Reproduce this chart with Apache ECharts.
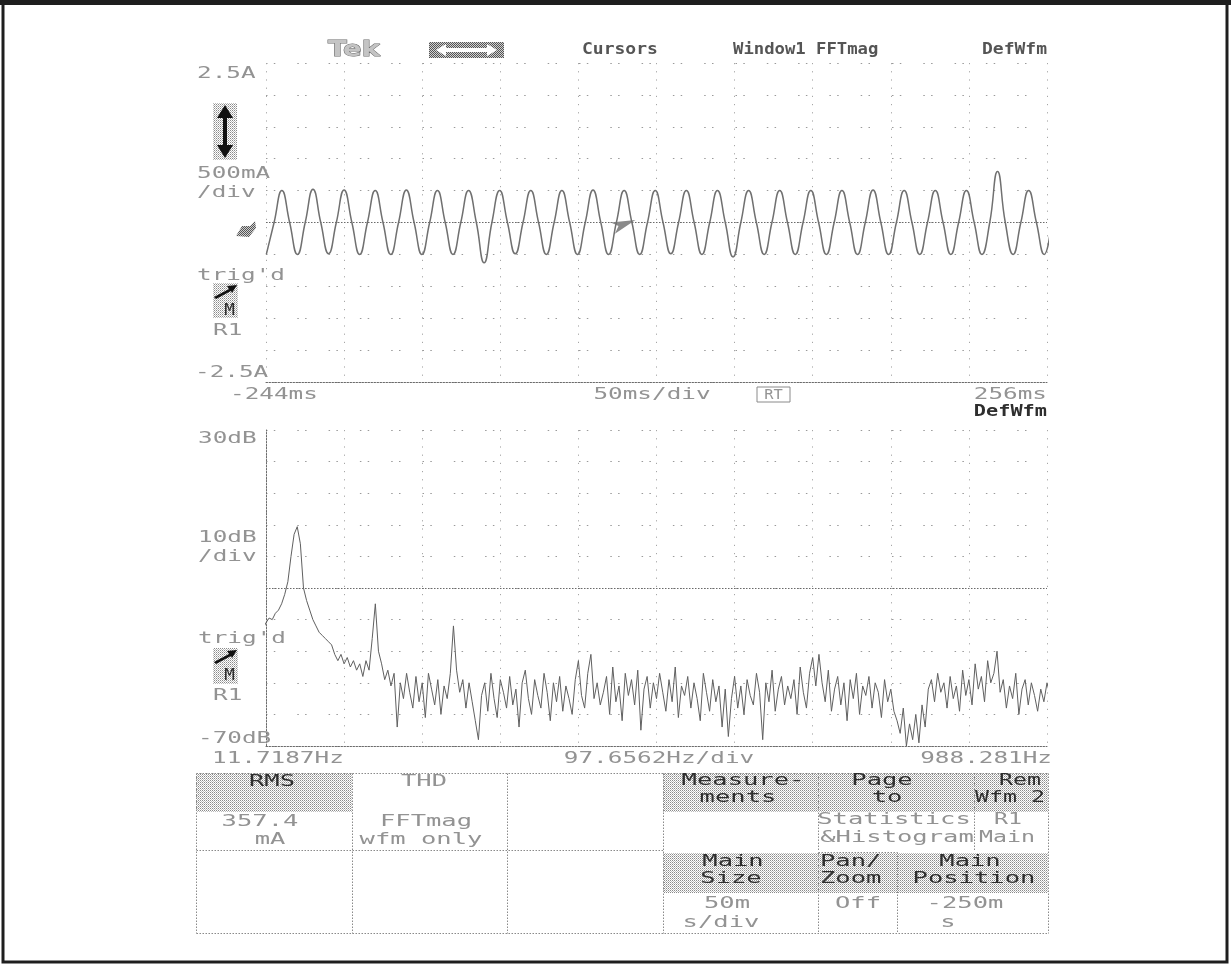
<!DOCTYPE html>
<html><head><meta charset="utf-8">
<script src="https://cdn.jsdelivr.net/npm/echarts@6/dist/echarts.min.js"></script>
<style>html,body{margin:0;padding:0;background:#fff}#c{width:1231px;height:967px}</style>
</head><body><div id="c"></div>
<script>
// ---------------- data ----------------
const timeRangeMs = [-244, 256];
const ampRangeA = [-2.5, 2.5];
const freqRangeHz = [11.7187, 988.281];
const dbRange = [-70, 30];

const ampTickValues = [2.5, -2.5];
const ampTickLabels = ['2.5A', '-2.5A'];
const timeTickValues = [-244, 256];
const timeTickLabels = ['-244ms', '256ms'];
const dbTickValues = [30, -70];
const dbTickLabels = ['30dB', '-70dB'];
const freqTickValues = [11.7187, 988.281];
const freqTickLabels = ['11.7187Hz', '988.281Hz'];

// current waveform, sampled every quarter cycle (A)
const waveStartMs = -243.8;
const waveStepMs = 4.98;
const waveCurrentA = [
  -0.50, 0, 0.50, 0, -0.50, 0, 0.52, 0, -0.49, 0, 0.51, 0, -0.50, 0, 0.50, 0,
  -0.50, 0, 0.51, 0, -0.50, 0, 0.50, 0, -0.50, 0, 0.50, 0, -0.63, 0, 0.50, 0,
  -0.49, 0, 0.50, 0, -0.50, 0, 0.50, 0, -0.50, 0, 0.51, 0, -0.50, 0, 0.50, 0,
  -0.50, 0, 0.50, 0, -0.49, 0, 0.50, 0, -0.50, 0, 0.50, 0, -0.54, 0, 0.50, 0,
  -0.50, 0, 0.50, 0, -0.50, 0, 0.50, 0, -0.50, 0, 0.50, 0, -0.50, 0, 0.51, 0,
  -0.50, 0, 0.50, 0, -0.50, 0, 0.50, 0, -0.50, 0, 0.50, 0, -0.50, 0, 0.80, 0,
  -0.50, 0, 0.50, 0, -0.50, 0.05
];

// FFT magnitude per bin (dB), bins of 3.90625 Hz starting at bin 1
const fftStartHz = 3.90625;
const fftStepHz = 3.90625;
const fftDb = [
  -36, -33, -31, -29.5, -30, -28, -27, -25, -22, -18,
  -10, -3, -0.6, -6, -20, -24, -27, -30, -32, -34,
  -35, -36, -37, -38, -41, -43, -41, -44, -42, -45,
  -43, -46, -44, -48, -43, -46, -36, -25, -40, -44,
  -49, -46, -51, -47, -64, -50, -55, -47, -53, -58,
  -48, -56, -50, -61, -47, -52, -57, -49, -60, -51,
  -55, -47, -32, -46, -53, -49, -58, -50, -56, -62,
  -68, -54, -50, -59, -47, -55, -61, -49, -53, -58,
  -48, -57, -52, -64, -50, -46, -55, -60, -49, -54,
  -58, -47, -53, -62, -50, -56, -48, -59, -51, -55,
  -60, -49, -43, -54, -58, -47, -41, -55, -50, -57,
  -53, -48, -60, -45, -56, -51, -62, -47, -54, -49,
  -57, -46, -65, -52, -48, -58, -50, -55, -47, -53,
  -59, -49, -56, -45, -61, -51, -54, -48, -58, -50,
  -55, -62, -47, -53, -59, -49, -56, -51, -64, -52,
  -67, -55, -48, -58, -51, -60, -49, -54, -57, -47,
  -53, -68, -50, -56, -46, -59, -52, -48, -57, -51,
  -55, -49, -60, -45, -53, -58, -47, -42, -51, -41,
  -50, -56, -46, -59, -52, -48, -57, -50, -62, -49,
  -55, -47, -60, -51, -54, -48, -58, -50, -53, -61,
  -49, -56, -52, -59, -62, -66, -58, -70, -63, -68,
  -60, -69, -57, -64, -52, -49, -56, -47, -53, -50,
  -58, -48, -55, -51, -59, -46, -54, -49, -57, -44,
  -52, -48, -56, -43, -50, -47, -40, -53, -49, -58,
  -51, -55, -47, -60, -52, -49, -57, -50, -54, -59,
  -52, -56, -50, -54, -55
];

// ---------------- chart ----------------
const chart = echarts.init(document.getElementById('c'), null, {renderer: 'canvas'});
const waveData = waveCurrentA.map((v, i) => [waveStartMs + i * waveStepMs, v]);
const fftData = fftDb.map((v, i) => [fftStartHz + i * fftStepHz, v]);

const dense = {color: '#6a6a6a', width: 1, type: [1.5, 1.5]};
const hDots = {color: '#9a9a9a', width: 1, type: [1.5, 6.3, 1.5, 22]};
const vDots = {color: '#a6a6a6', width: 1, type: [1.2, 7]};

function divAxis(gi) {
  return {gridIndex: gi, type: 'value', min: 0, max: 10, interval: 1, position: 'bottom',
    axisLabel: {show: false}, axisTick: {show: false},
    axisLine: {show: true, onZero: false, lineStyle: dense},
    splitLine: {show: true, lineStyle: vDots}};
}

chart.setOption({
  animation: false,
  backgroundColor: '#ffffff',
  grid: [
    {left: 266, top: 63, width: 781, height: 319},
    {left: 266, top: 430, width: 781, height: 316}
  ],
  xAxis: [
    {gridIndex: 0, type: 'value', min: timeRangeMs[0], max: timeRangeMs[1], show: false},
    divAxis(0),
    {gridIndex: 1, type: 'value', min: freqRangeHz[0], max: freqRangeHz[1], show: false},
    divAxis(1)
  ],
  yAxis: [
    {gridIndex: 0, type: 'value', min: ampRangeA[0], max: ampRangeA[1], interval: 0.5,
      axisLabel: {show: false}, axisTick: {show: false}, axisLine: {show: false},
      splitLine: {show: true, lineStyle: hDots}},
    {gridIndex: 1, type: 'value', min: dbRange[0], max: dbRange[1], interval: 10,
      axisLabel: {show: false}, axisTick: {show: false},
      axisLine: {show: true, onZero: false, lineStyle: dense},
      splitLine: {show: true, lineStyle: hDots}}
  ],
  series: [
    {type: 'line', xAxisIndex: 0, yAxisIndex: 0, data: waveData, smooth: 0.5, symbol: 'none',
      clip: false, lineStyle: {color: '#707070', width: 1.5}, z: 5,
      markLine: {silent: true, symbol: 'none', label: {show: false}, lineStyle: dense, data: [{yAxis: 0}]},
      markPoint: {silent: true, symbol: 'arrow', symbolSize: [9, 24], symbolRotate: -70,
        itemStyle: {color: '#8a8a8a'}, label: {show: false}, data: [{coord: [-7.5, 0.04]}]}
    },
    {type: 'line', xAxisIndex: 2, yAxisIndex: 1, data: fftData, symbol: 'none', clip: false,
      lineStyle: {color: '#606060', width: 1}, z: 5,
      markLine: {silent: true, symbol: 'none', label: {show: false}, lineStyle: dense, data: [{yAxis: -20}]}
    }
  ]
});

// ---------------- decorations / text ----------------
const pc = document.createElement('canvas'); pc.width = 2; pc.height = 2;
const pg = pc.getContext('2d');
pg.fillStyle = '#fff'; pg.fillRect(0, 0, 2, 2);
pg.fillStyle = '#8a8a8a'; pg.fillRect(0, 0, 1, 1);
pg.fillStyle = '#bdbdbd'; pg.fillRect(1, 1, 1, 1);
const hatch = {image: pc, repeat: 'repeat'};
const pc2 = document.createElement('canvas'); pc2.width = 2; pc2.height = 2;
const pg2 = pc2.getContext('2d');
pg2.fillStyle = '#d0d0d0'; pg2.fillRect(0, 0, 2, 2);
pg2.fillStyle = '#555'; pg2.fillRect(0, 0, 1, 1); pg2.fillRect(1, 1, 1, 1);
const hatchDark = {image: pc2, repeat: 'repeat'};

const MONO = '"DejaVu Sans Mono"';
const LIGHT = '#939393', DARK = '#2e2e2e';
function txt(text, x, y, o) {
  o = o || {};
  const font = (o.bold ? 'bold ' : '') + (o.size || 16) + 'px ' + (o.family || MONO);
  return {type: 'text', x: x, y: y, scaleX: o.sx || 1.52, z: 20,
    style: {text: text, x: 0, y: 0, font: font, fill: o.color || LIGHT,
      stroke: o.stroke, lineWidth: o.lw || 0,
      align: o.align || 'left', textAlign: o.align || 'left',
      verticalAlign: o.va || 'middle', textVerticalAlign: o.va || 'middle'}};
}
function rect(x, y, w, h, fill, stroke, lw) {
  return {type: 'rect', z: 15, shape: {x: x, y: y, width: w, height: h},
    style: {fill: fill || 'none', stroke: stroke || null, lineWidth: lw || 1}};
}
function line(x1, y1, x2, y2, color, dash) {
  return {type: 'line', z: 16, shape: {x1: x1, y1: y1, x2: x2, y2: y2},
    style: {stroke: color || '#8a8a8a', lineWidth: 1, lineDash: dash || [1.5, 1.5]}};
}
function poly(points, fill) {
  return {type: 'polygon', z: 17, shape: {points: points}, style: {fill: fill}};
}

const px = (q, v) => chart.convertToPixel(q, v);
const g = [];

// page frame
g.push(rect(0, 0, 1231, 5, '#1e1e1e'));
g.push(rect(3, 3, 1224, 959, 'none', '#1e1e1e', 3));

// header
g.push(txt('Tek', 328, 50, {family: '"DejaVu Sans"', bold: true, size: 22, sx: 1.25, color: '#c4c4c4', stroke: '#6a6a6a', lw: 1}));
g.push(rect(429, 42, 75, 16, hatchDark));
g.push(poly([[436, 50], [446, 44], [446, 48], [487, 48], [487, 44], [497, 50], [487, 56], [487, 52], [446, 52], [446, 56]], '#ffffff'));
g.push(txt('Cursors', 582, 50, {bold: true, size: 15, sx: 1.2, color: '#555'}));
g.push(txt('Window1 FFTmag', 733, 50, {bold: true, size: 15, sx: 1.15, color: '#555'}));
g.push(txt('DefWfm', 1047, 50, {bold: true, size: 15, sx: 1.2, color: '#555', align: 'right'}));

// ----- top plot labels -----
const yA0 = px({yAxisIndex: 0}, ampTickValues[0]);
const yA1 = px({yAxisIndex: 0}, ampTickValues[1]);
g.push(txt(ampTickLabels[0], 197, yA0 + 3, {va: 'top'}));
g.push(txt(ampTickLabels[1], 195, yA1 - 1, {va: 'bottom'}));
const xT0 = px({xAxisIndex: 0}, timeTickValues[0]);
const xT1 = px({xAxisIndex: 0}, timeTickValues[1]);
g.push(txt(timeTickLabels[0], xT0 - 36, yA1 + 13));
g.push(txt(timeTickLabels[1], xT1, yA1 + 13, {align: 'right'}));
g.push(txt('50ms/div', 652, yA1 + 13, {align: 'center'}));
g.push(rect(757, yA1 + 5, 33, 15, 'none', '#8a8a8a', 1));
g.push(txt('RT', 773.5, yA1 + 13, {align: 'center', sx: 1.1, size: 14}));
g.push(txt('DefWfm', 1047, yA1 + 30, {align: 'right', bold: true, size: 15, sx: 1.35, color: DARK}));

g.push(txt('500mA', 197, 174));
g.push(txt('/div', 197, 193));
g.push(txt("trig'd", 197, 276));
g.push(txt('R1', 213, 331));
// vertical-position icon
g.push(rect(213, 103, 24, 57, hatch));
g.push(poly([[225, 105], [233, 118], [227, 118], [227, 145], [233, 145], [225, 158], [217, 145], [223, 145], [223, 118], [217, 118]], '#111'));
// trigger arrow + M
g.push(rect(213, 283, 25, 35, hatch));
g.push(poly([[214, 297], [229, 289], [227, 286], [237, 285], [232, 293], [231, 291], [216, 299]], '#111'));
g.push(txt('M', 229.5, 311, {align: 'center', color: DARK, sx: 1.1}));
// channel ground marker
g.push(poly([[236, 236], [242, 226], [250, 226], [255, 221], [256, 228], [249, 237]], hatchDark));

// ----- bottom plot labels -----
const yD0 = px({yAxisIndex: 1}, dbTickValues[0]);
const yD1 = px({yAxisIndex: 1}, dbTickValues[1]);
g.push(txt(dbTickLabels[0], 198, yD0 + 1, {va: 'top'}));
g.push(txt(dbTickLabels[1], 198, yD1 + 1, {va: 'bottom'}));
const xF0 = px({xAxisIndex: 2}, freqTickValues[0]);
const xF1 = px({xAxisIndex: 2}, freqTickValues[1]);
g.push(txt(freqTickLabels[0], xF0 - 54, yD1 + 13));
g.push(txt(freqTickLabels[1], xF1 + 5, yD1 + 13, {align: 'right'}));
g.push(txt('97.6562Hz/div', 659, yD1 + 13, {align: 'center'}));
g.push(txt('10dB', 198, 538));
g.push(txt('/div', 198, 557));
g.push(txt("trig'd", 198, 639));
g.push(txt('R1', 213, 696));
g.push(rect(213, 648, 25, 36, hatch));
g.push(poly([[214, 662], [229, 654], [227, 651], [237, 650], [232, 658], [231, 656], [216, 664]], '#111'));
g.push(txt('M', 229.5, 676, {align: 'center', color: DARK, sx: 1.1}));

// ----- menu -----
const cols = [196, 352, 507, 663, 818, 974, 1048];
const mTop = 773, mMid = 850, mBot = 933;
g.push(rect(cols[0], mTop, 156, 39, hatch));
g.push(rect(cols[3], mTop, 155, 39, hatch));
g.push(rect(cols[4], mTop, 156, 39, hatch));
g.push(rect(cols[5], mTop, 74, 39, hatch));
g.push(rect(cols[3], 853, 155, 40, hatch));
g.push(rect(cols[4], 853, 79, 40, hatch));
g.push(rect(897, 853, 151, 40, hatch));
const mk = (x1, y1, x2, y2) => g.push(line(x1 + 0.5, y1 + 0.5, x2 + 0.5, y2 + 0.5, '#8a8a8a', [1.5, 1.5]));
mk(cols[0], mTop, cols[6], mTop);
mk(cols[0], mBot, cols[6], mBot);
mk(cols[0], mTop, cols[0], mBot);
mk(cols[6], mTop, cols[6], mBot);
mk(cols[1], mTop, cols[1], mBot);
mk(cols[2], mTop, cols[2], mBot);
mk(cols[3], mTop, cols[3], mBot);
mk(cols[4], mTop, cols[4], mMid);
mk(cols[5], mTop, cols[5], mMid);
mk(cols[0], mMid, cols[3], mMid);
mk(cols[4], 852, 897, 852);
mk(cols[4], 852, cols[4], mBot);
mk(897, 852, 897, mBot);

const MS = {size: 15, sx: 1.7};
const md = Object.assign({}, MS, {align: 'center', color: DARK});
const ml = Object.assign({}, MS, {align: 'center'});
const md6 = Object.assign({}, md, {sx: 1.55});
const ml6 = Object.assign({}, ml, {sx: 1.55});
g.push(txt('RMS', 272, 782, md));
g.push(txt('357.4', 260, 822, ml));
g.push(txt('mA', 270, 840, ml));
g.push(txt('THD', 424, 782, ml));
g.push(txt('FFTmag', 426, 822, ml));
g.push(txt('wfm only', 421, 840, ml));
g.push(txt('Measure-', 743, 781, md));
g.push(txt('ments', 738, 798, md));
g.push(txt('Page', 882, 781, md));
g.push(txt('to', 887, 798, md));
g.push(txt('Statistics', 894, 820, ml));
g.push(txt('&Histogram', 897, 838, ml));
g.push(txt('Rem', 1020, 781, md6));
g.push(txt('Wfm 2', 1010, 798, md6));
g.push(txt('R1', 1008, 820, ml6));
g.push(txt('Main', 1007, 838, ml6));
g.push(txt('Main', 733, 862, md));
g.push(txt('Size', 731, 879, md));
g.push(txt('50m', 727, 904, ml));
g.push(txt('s/div', 721, 923, ml));
g.push(txt('Pan/', 820, 862, Object.assign({}, MS, {color: DARK})));
g.push(txt('Zoom', 820, 879, Object.assign({}, MS, {color: DARK})));
g.push(txt('Off', 858, 904, ml));
g.push(txt('Main', 970, 862, md));
g.push(txt('Position', 974, 879, md));
g.push(txt('-250m', 965, 904, ml));
g.push(txt('s', 948, 923, ml));

chart.setOption({graphic: {elements: g}});
</script>
</body></html>
